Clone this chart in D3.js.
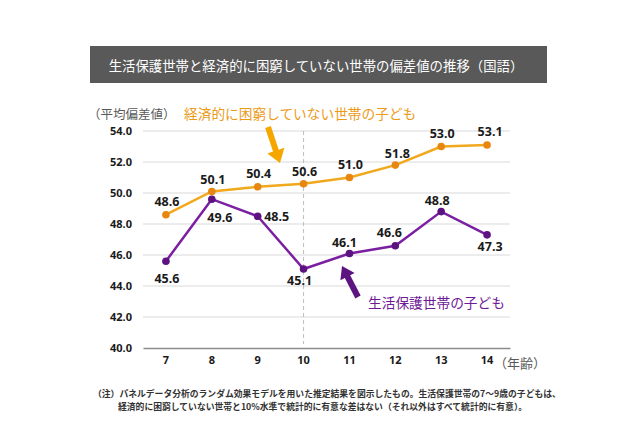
<!DOCTYPE html>
<html><head><meta charset="utf-8">
<script src="https://cdn.jsdelivr.net/npm/d3@7"></script>
<style>
body{margin:0;background:#fff;}
svg{display:block;font-family:"Noto Sans CJK JP","Noto Sans",sans-serif;}
</style></head>
<body>
<svg id="c" width="640" height="426"></svg>
<script>
const title = "生活保護世帯と経済的に困窮していない世帯の偏差値の推移（国語）";
const ages = ["7","8","9","10","11","12","13","14"];
const yTicks = [40,42,44,46,48,50,52,54];
const nonPoor = [48.6,50.1,50.4,50.6,51.0,51.8,53.0,53.1];
const welfare = [45.6,49.6,48.5,45.1,46.1,46.6,48.8,47.3];
const nonPoorName = "経済的に困窮していない世帯の子ども";
const welfareName = "生活保護世帯の子ども";
const yUnit = "（平均偏差値）";
const xUnit = "（年齢）";
const note1 = "（注）パネルデータ分析のランダム効果モデルを用いた推定結果を図示したもの。生活保護世帯の7～9歳の子どもは、";
const note2 = "経済的に困窮していない世帯と10%水準で統計的に有意な差はない（それ以外はすべて統計的に有意）。";
// label placement (dx, dy of label centre relative to point)
const nonPoorLbl = [[1,-13],[1,-12],[1,-13],[1,-12],[1,-13],[2,-12],[1,-13],[3,-13]];
const welfareLbl = [[1,17],[8,18],[19,0],[-4,12],[-5,-11],[-6,-13],[-4,-11],[3,12]];

const svg = d3.select("#c");
const orangeLine="#F2A81D", orangeDot="#E8870F", purpleLine="#7B1FA2", purpleDot="#5C1280";

// title
svg.append("rect").attr("x",90).attr("y",46).attr("width",457).attr("height",37).attr("fill","#595959");
svg.append("text").attr("x",316).attr("y",65).attr("text-anchor","middle").attr("dominant-baseline","central")
  .attr("fill","#fff").attr("font-size",13.4).text(title);

const x = d3.scaleBand().domain(ages).range([143,510]).padding(0);
const cx = d => x(d)+x.bandwidth()/2;
const y = d3.scaleLinear().domain([40,54]).range([348,131]);

// grid
svg.append("g").selectAll("line").data(yTicks.filter(t=>t>40)).join("line")
  .attr("x1",143).attr("x2",510).attr("y1",d=>y(d)).attr("y2",d=>y(d))
  .attr("stroke","#D9D9D9").attr("stroke-width",1);

// dashed vertical at age 10
svg.append("line").attr("x1",cx("10")).attr("x2",cx("10")).attr("y1",y(54)).attr("y2",344)
  .attr("stroke","#BDBDBD").attr("stroke-dasharray","4,3");

// y axis
const ya = svg.append("g").attr("transform","translate(143,0)")
  .call(d3.axisLeft(y).tickValues(yTicks).tickFormat(d3.format(".1f")).tickSize(0).tickPadding(11));
ya.select(".domain").remove();
ya.selectAll("text").attr("font-size",11).attr("font-weight","bold").attr("fill","#1a1a1a")
  .attr("font-family","'Noto Sans','Noto Sans CJK JP',sans-serif");

// x axis
const xa = svg.append("g").attr("transform","translate(0,348)")
  .call(d3.axisBottom(x).tickSize(0).tickPadding(8));
xa.select(".domain").attr("stroke","#8C8C8C").attr("stroke-width",1.5);
xa.selectAll("text").attr("font-size",11).attr("font-weight","bold").attr("fill","#1a1a1a")
  .attr("font-family","'Noto Sans','Noto Sans CJK JP',sans-serif");

// unit labels
svg.append("text").attr("x",88).attr("y",113).attr("dominant-baseline","central")
  .attr("font-size",12.5).attr("fill","#595959").text(yUnit);
svg.append("text").attr("x",494).attr("y",362).attr("dominant-baseline","central")
  .attr("font-size",13).attr("fill","#595959").text(xUnit);

// series
function drawSeries(vals, lineC, dotC, lbl){
  const pts = ages.map((a,i)=>[cx(a), y(vals[i])]);
  svg.append("path").attr("d", d3.line()(pts)).attr("fill","none").attr("stroke",lineC).attr("stroke-width",2.5);
  svg.append("g").selectAll("circle").data(pts).join("circle")
    .attr("cx",d=>d[0]).attr("cy",d=>d[1]).attr("r",3.8).attr("fill",dotC);
  svg.append("g").selectAll("text").data(vals).join("text")
    .attr("x",(d,i)=>pts[i][0]+lbl[i][0]).attr("y",(d,i)=>pts[i][1]+lbl[i][1])
    .attr("text-anchor","middle").attr("dominant-baseline","central")
    .attr("font-size",12.5).attr("font-weight","bold").attr("fill","#1a1a1a")
    .attr("font-family","'Noto Sans','Noto Sans CJK JP',sans-serif")
    .text(d=>d3.format(".1f")(d));
}
drawSeries(nonPoor, orangeLine, orangeDot, nonPoorLbl);
drawSeries(welfare, purpleLine, purpleDot, welfareLbl);

// series name annotations
svg.append("text").attr("x",184).attr("y",113).attr("dominant-baseline","central")
  .attr("font-size",13.7).attr("fill","#EB9B1A").text(nonPoorName);
svg.append("text").attr("x",368).attr("y",302).attr("dominant-baseline","central")
  .attr("font-size",13.7).attr("fill","#6E1A96").text(welfareName);

// arrows
function arrow(tail, tip, shaftW, headW, headL, color){
  const dx=tip[0]-tail[0], dy=tip[1]-tail[1], L=Math.hypot(dx,dy);
  const ux=dx/L, uy=dy/L, px=-uy, py=ux;
  const bx=tip[0]-ux*headL, by=tip[1]-uy*headL;
  const p=[
    [tail[0]+px*shaftW/2, tail[1]+py*shaftW/2],
    [bx+px*shaftW/2, by+py*shaftW/2],
    [bx+px*headW/2, by+py*headW/2],
    tip,
    [bx-px*headW/2, by-py*headW/2],
    [bx-px*shaftW/2, by-py*shaftW/2],
    [tail[0]-px*shaftW/2, tail[1]-py*shaftW/2]];
  svg.append("path").attr("d","M"+p.map(q=>q.join(",")).join("L")+"Z").attr("fill",color);
}
arrow([268,127],[280,163],6,18,13,"#F5A700");
arrow([358,297],[342,266],6,16,12,"#5E1480");

// footnote
svg.append("text").attr("x",93).attr("y",393).attr("dominant-baseline","central")
  .attr("font-size",8.8).attr("font-weight","bold").attr("fill","#333").text(note1);
svg.append("text").attr("x",118).attr("y",406).attr("dominant-baseline","central")
  .attr("font-size",8.8).attr("font-weight","bold").attr("fill","#333").text(note2);
</script>
</body></html>
